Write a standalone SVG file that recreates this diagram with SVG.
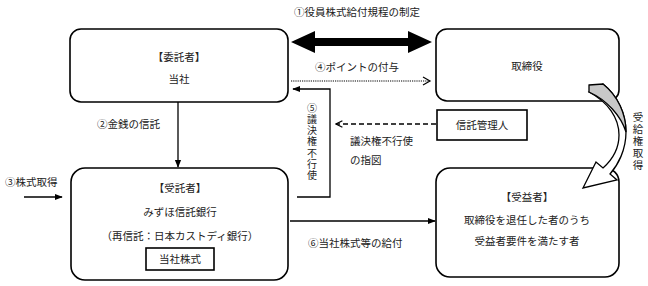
<svg xmlns="http://www.w3.org/2000/svg" width="648" height="286" viewBox="0 0 648 286">
<style>
text{font-family:"Noto Sans CJK JP","Liberation Sans",sans-serif;font-size:10.5px;fill:#222}
.c{text-anchor:middle}
.v{writing-mode:vertical-rl;text-orientation:upright}
.box{fill:#fff;stroke:#000;stroke-width:1.6}
.ln{fill:none;stroke:#000;stroke-width:1.3}
</style>
<defs>
<marker id="ah" viewBox="0 0 10 10" refX="9" refY="5" markerWidth="8" markerHeight="8" markerUnits="userSpaceOnUse" orient="auto"><path d="M0,1 L10,5 L0,9 Z" fill="#000"/></marker>
<marker id="chev" viewBox="0 0 10 10" refX="9" refY="5" markerWidth="8" markerHeight="8" markerUnits="userSpaceOnUse" orient="auto"><path d="M1,1 L9,5 L1,9" fill="none" stroke="#000" stroke-width="1.6"/></marker>
</defs>
<rect width="648" height="286" fill="#fff"/>
<g id="itakusha"><rect class="box" x="70" y="29" width="218" height="73" rx="11"/><text class="c" x="179" y="61">【委託者】</text><text class="c" x="179" y="83">当社</text></g>
<g id="torishimariyaku"><rect class="box" x="436" y="29" width="183" height="72" rx="11"/><text class="c" x="527" y="70">取締役</text></g>
<g id="shintakukanrinin"><rect class="box" x="437" y="110" width="90" height="30"/><text class="c" x="482" y="129">信託管理人</text></g>
<g id="jutakusha"><rect class="box" x="71" y="168" width="217" height="112" rx="14"/><text class="c" x="180" y="192">【受託者】</text><text class="c" x="180" y="216">みずほ信託銀行</text><text class="c" x="180" y="240">（再信託：日本カストディ銀行）</text><rect class="box" x="146" y="248" width="68" height="22"/><text class="c" x="180" y="263">当社株式</text></g>
<g id="juekisha"><rect class="box" x="436" y="168" width="183" height="109" rx="14"/><text class="c" x="527" y="201">【受益者】</text><text class="c" x="527" y="224">取締役を退任した者のうち</text><text class="c" x="527" y="245">受益者要件を満たす者</text></g>
<g id="connectors">
<polygon points="291,42 315,31 315,38 408,38 408,31 432,42 408,53 408,46 315,46 315,53" fill="#000"/>
<line x1="291" y1="81" x2="429" y2="81" stroke="#000" stroke-width="1.2" stroke-dasharray="1.2,1"/>
<polyline points="423,77 430,81 423,85" fill="none" stroke="#000" stroke-width="1.2"/>
<path class="ln" d="M297,197 H330 V89 H293" marker-end="url(#ah)"/>
<line x1="436" y1="124" x2="336" y2="124" stroke="#000" stroke-width="1.5" stroke-dasharray="5,3" marker-end="url(#chev)"/>
<line class="ln" x1="178" y1="102" x2="178" y2="167" marker-end="url(#ah)"/>
<line class="ln" x1="24" y1="197" x2="62" y2="197" marker-end="url(#ah)"/>
<line class="ln" x1="290" y1="221" x2="435" y2="221" marker-end="url(#ah)"/>
<path d="M589,92 C608,102 619,118 619,135 C619,148 612,160 603,168 L596,162 L583,188 L617,180 L610,174 C618,165 626,150 626,132 C626,114 618,96 603,84 Z" fill="#fff" stroke="#000" stroke-width="1.3"/>
<path d="M589,85 L603,84 C618,96 626,114 626,132 C621,116 607,100 589,92 Z" fill="#c8c8c8" stroke="#000" stroke-width="1.3"/>
</g>
<g id="labels">
<text class="c" x="357" y="16">①役員株式給付規程の制定</text>
<text class="c" x="357" y="71">④ポイントの付与</text>
<text x="97" y="128">②金銭の信託</text>
<text x="5" y="186">③株式取得</text>
<text x="350" y="145">議決権不行使</text>
<text x="350" y="164">の指図</text>
<text x="308" y="247">⑥当社株式等の給付</text>
<text class="v" x="312" y="103" style="font-size:10px;letter-spacing:1.2px">⑤議決権不行使</text>
<text class="v" x="638" y="112" style="letter-spacing:1.5px">受給権取得</text>
</g>
</svg>
